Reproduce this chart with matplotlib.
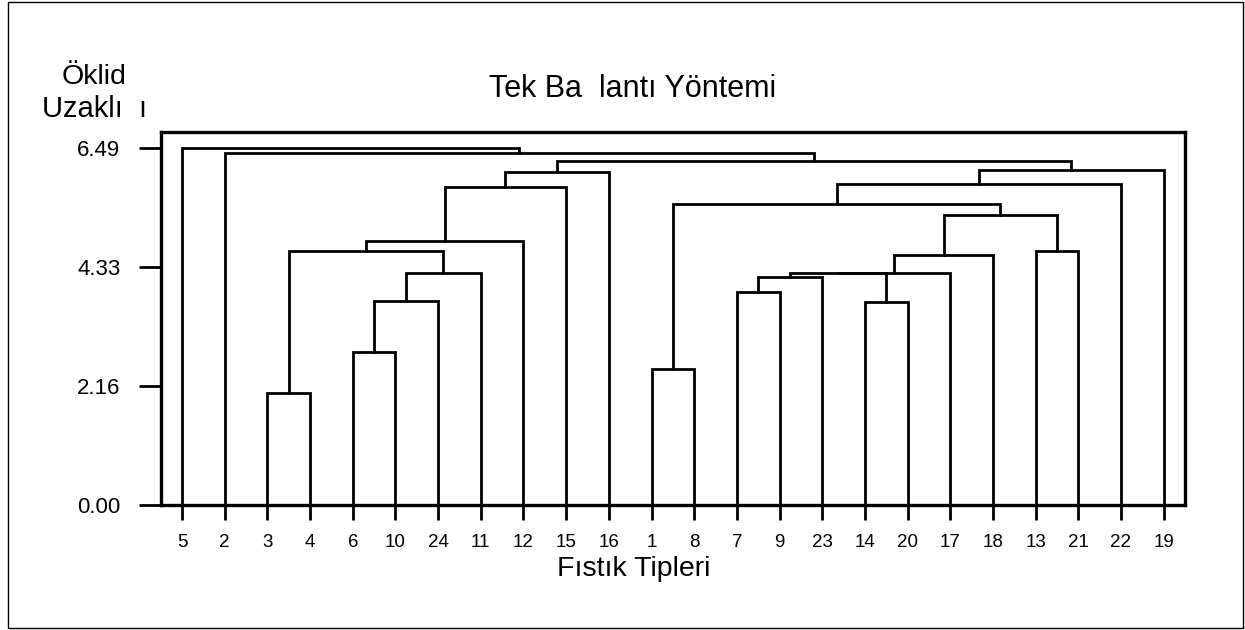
import matplotlib.pyplot as plt
from matplotlib.patches import Rectangle

# leaf order along the x axis
leaves = ["5", "2", "3", "4", "6", "10", "24", "11", "12", "15", "16", "1",
          "8", "7", "9", "23", "14", "20", "17", "18", "13", "21", "22", "19"]

# single-linkage merges: a leaf label (str) or the index of an earlier merge (int)
merge_a = ["3", "6", 1, 2, 0, 4, 5, 6, "1", "7", 9, "14", 10, 12, 13, "13", 14, 8, 17, 18, 7, "2", "5"]
merge_b = ["4", "10", "24", "11", 3, "12", "15", "16", "8", "9", "23", "20", 11, "17", "18", "21", 15, 16, "22", "19", 19, 20, 21]
merge_h = [2.04, 2.79, 3.71, 4.22, 4.62, 4.81, 5.79, 6.06, 2.47, 3.88, 4.15, 3.69,
           4.22, 4.22, 4.54, 4.62, 5.27, 5.47, 5.83, 6.09, 6.25, 6.40, 6.49]

plt.rcParams['font.family'] = ['Liberation Sans', 'DejaVu Sans']

W, H = 1245, 630
fig = plt.figure(figsize=(W / 100, H / 100), dpi=100)
fig.patches.append(Rectangle((8 / W, 2 / H), 1235 / W, 626 / H, transform=fig.transFigure,
                             fill=False, edgecolor='black', lw=1.0))

ax = fig.add_axes([160.7 / W, 125 / H, (1185 - 160.7) / W, (505 - 131.7) / H])

pos = {name: i for i, name in enumerate(leaves)}
centers, heights = [], []


def locate(node):
    if isinstance(node, str):
        return pos[node], 0.0
    return centers[node], heights[node]


for a, b, h in zip(merge_a, merge_b, merge_h):
    xa, ya = locate(a)
    xb, yb = locate(b)
    ax.plot([xa, xa, xb, xb], [ya, h, h, yb], color='black', lw=2.0,
            solid_joinstyle='miter', clip_on=False)
    centers.append((xa + xb) / 2)
    heights.append(h)

top = max(merge_h)
ax.set_xlim(-0.5, 23.5)
ax.set_ylim(0, 6.79)

yt = [0, top / 3, 2 * top / 3, top]
ax.set_yticks(yt)
ax.set_yticklabels([f"{v:.2f}" for v in yt], fontsize=16)
ax.set_xticks(range(len(leaves)))
ax.set_xticklabels(leaves, fontsize=13.5)

ax.tick_params(axis='y', length=16, width=2, pad=13)
ax.tick_params(axis='x', length=11, width=2, pad=10)
for sp in ax.spines.values():
    sp.set_linewidth(2.4)

fig.text(633 / W, 1 - 97 / H, "Tek Ba  lantı Yöntemi", ha='center', va='baseline', fontsize=22)
fig.text(634 / W, 1 - 576 / H, "Fıstık Tipleri", ha='center', va='baseline', fontsize=20.5)
fig.text(94 / W, 1 - 84 / H, "Öklid", ha='center', va='baseline', fontsize=20.5)
fig.text(95 / W, 1 - 117 / H, "Uzaklı  ı", ha='center', va='baseline', fontsize=21)

fig.savefig("out.png", dpi=100)
